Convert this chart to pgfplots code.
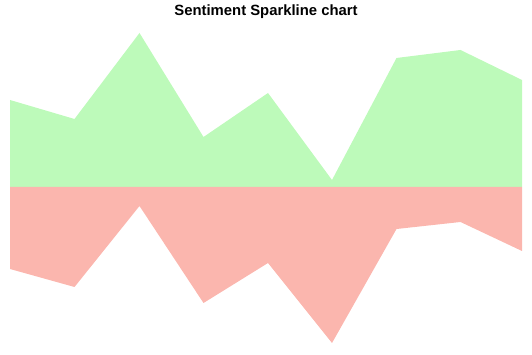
\documentclass[border=0pt]{standalone}
\usepackage{fontspec}
\setmainfont{Liberation Sans}
\usepackage{pgfplots}
\pgfplotsset{compat=1.18}
\definecolor{posgreen}{RGB}{189,250,186}
\definecolor{negred}{RGB}{251,182,174}
\begin{document}
\begin{tikzpicture}
\begin{axis}[
  scale only axis, width=532bp, height=355bp,
  xmin=0, xmax=532, ymin=-168, ymax=187,
  hide axis, clip=false,
]
\addplot[fill=posgreen, draw=none] coordinates {
  (10,0) (10,87) (74.5,68) (139.5,154) (203.5,50) (268,94) (332,7) (396.5,129) (460.5,137) (522,107) (522,0)
} \closedcycle;
\addplot[fill=negred, draw=none] coordinates {
  (10,0) (10,-82) (74.5,-100) (139.5,-19) (203.5,-116) (268,-76) (332,-156) (396.5,-42) (460.5,-35) (522,-64) (522,0)
} \closedcycle;
\draw[draw=none] (rel axis cs:0,0) rectangle (rel axis cs:1,1);
\node[anchor=base, inner sep=0pt, yshift=-16bp] at (rel axis cs:0.5,1)
  {\fontsize{14.9}{17}\selectfont\bfseries Sentiment Sparkline chart};
\end{axis}
\end{tikzpicture}
\end{document}
